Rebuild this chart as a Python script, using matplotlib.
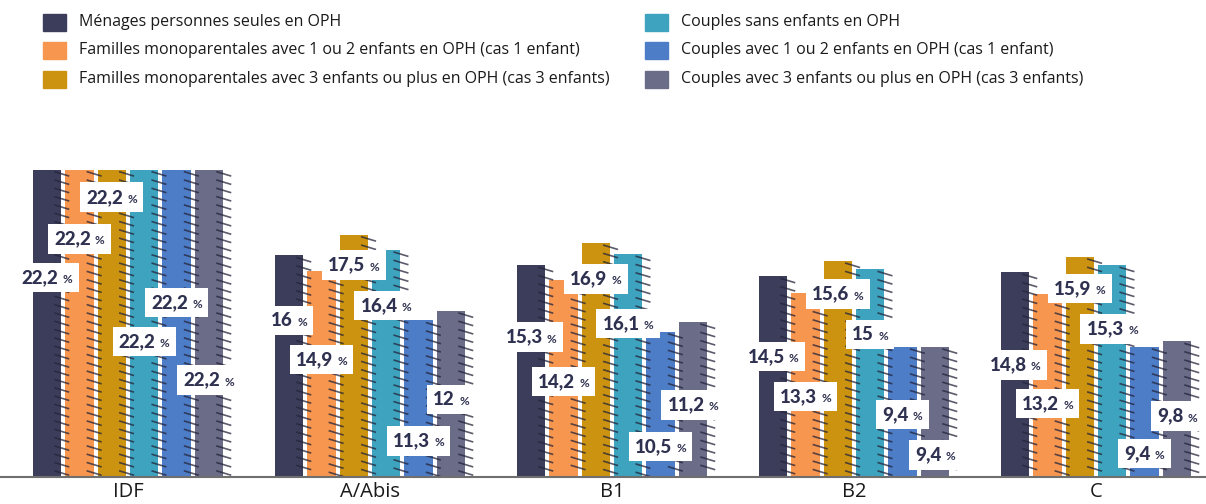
import matplotlib
matplotlib.use("Agg")
import matplotlib.pyplot as plt
import numpy as np
from matplotlib.patches import Rectangle
from matplotlib.collections import LineCollection
from matplotlib.offsetbox import TextArea, HPacker, AnnotationBbox

# Zones et séries
zones = ["IDF", "A/Abis", "B1", "B2", "C"]
series = [
    "Ménages personnes seules en OPH",
    "Familles monoparentales avec 1 ou 2 enfants en OPH (cas 1 enfant)",
    "Familles monoparentales avec 3 enfants ou plus en OPH (cas 3 enfants)",
    "Couples sans enfants en OPH",
    "Couples avec 1 ou 2 enfants en OPH (cas 1 enfant)",
    "Couples avec 3 enfants ou plus en OPH (cas 3 enfants)",
]
colors = ["#3c3d5a", "#f7964f", "#cc9310", "#3ea3be", "#4e7dc7", "#6b6c87"]

# Taux d'effort (%) par zone, une liste par série
menages_seuls = [22.2, 16.0, 15.3, 14.5, 14.8]
mono_1enf = [22.2, 14.9, 14.2, 13.3, 13.2]
mono_3enf = [22.2, 17.5, 16.9, 15.6, 15.9]
couples_sans = [22.2, 16.4, 16.1, 15.0, 15.3]
couples_1enf = [22.2, 11.3, 10.5, 9.4, 9.4]
couples_3enf = [22.2, 12.0, 11.2, 9.4, 9.8]
values = [menages_seuls, mono_1enf, mono_3enf, couples_sans, couples_1enf, couples_3enf]

# hauteur (en %) du centre des étiquettes, pour les décaler en escalier
label_y = [
    [14.4, 11.3, 10.1, 8.7, 8.1],
    [17.2, 8.5, 6.9, 5.8, 5.3],
    [20.2, 15.3, 14.3, 13.2, 13.6],
    [9.8, 12.4, 11.1, 10.3, 10.7],
    [12.6, 2.6, 2.2, 4.5, 1.7],
    [7.0, 5.6, 5.2, 1.6, 4.4],
]

W, H = 1206, 504
px_x = 1 / 242.0    # unités x par pixel
px_y = 1 / 13.85    # unités y par pixel
pitch = 32.4 * px_x
width = 28.5 * px_x
navy = "#2f3150"

fig = plt.figure(figsize=(W / 100, H / 100), dpi=100)
base = 27 / H
ax = fig.add_axes([0, base, 1, 415.5 / H])
ax.set_xlim(-128 * px_x, (W - 128) * px_x)
ax.set_ylim(0, 30)
ax.axis("off")

x = np.arange(len(zones))
strokes = []
for j, vals in enumerate(values):
    xs = x + (j - 2.5) * pitch
    ax.bar(xs, vals, width=width, color=colors[j], zorder=2)
    for xc, v in zip(xs, vals):
        xr = xc + width / 2
        for y in np.arange(v - 0.15, 0.3, -0.6):
            strokes.append([(xr - 7 * px_x, y), (xr + 8 * px_x, y - 4.5 * px_y)])
ax.add_collection(LineCollection(strokes, colors="#24243a", linewidths=1.2, alpha=0.75, zorder=3))

# étiquettes de valeur dans des cartouches blancs
for j, vals in enumerate(values):
    xs = x + (j - 2.5) * pitch
    for i, v in enumerate(vals):
        txt = f"{v:g}".replace(".", ",")
        num = TextArea(txt, textprops=dict(size=13.5, weight="black", color=navy, family="Lato"))
        pct = TextArea("%", textprops=dict(size=8.5, weight="bold", color=navy, family="Lato"))
        box = HPacker(children=[num, pct], align="baseline", pad=0, sep=3)
        ab = AnnotationBbox(box, (xs[i], label_y[j][i]), frameon=True, pad=0.45,
                            bboxprops=dict(fc="white", ec="none", boxstyle="square,pad=0.45"),
                            zorder=5)
        ax.add_artist(ab)

# ligne de base
fig.add_artist(plt.Line2D([0, 1], [base, base], color="#6f6f6f", lw=1.5))

for i, z in enumerate(zones):
    ax.text(x[i], -15 * px_y, z, ha="center", va="center", fontsize=14.5,
            family="Open Sans", color="#1a1a1a", clip_on=False)

# légende sur deux colonnes
leg_x = [43, 645]
leg_y = [22, 50, 79]
for j, name in enumerate(series):
    col, row = divmod(j, 3)
    x0 = leg_x[col]
    y0 = leg_y[row]
    fig.add_artist(Rectangle((x0 / W, 1 - (y0 + 8.5) / H), 23 / W, 17 / H,
                             transform=fig.transFigure, color=colors[j]))
    fig.text((x0 + 36) / W, 1 - y0 / H, name, ha="left", va="center",
             fontsize=11.5, family="Open Sans", color="#1a1a1a")

fig.savefig("out.png", dpi=100)
